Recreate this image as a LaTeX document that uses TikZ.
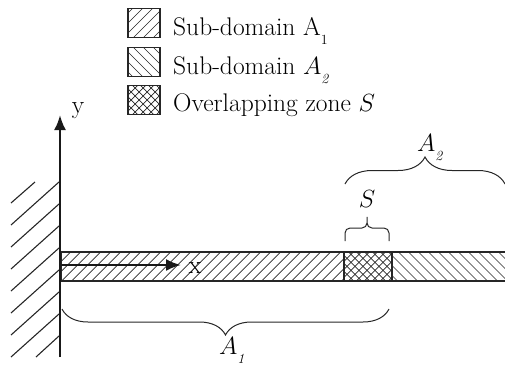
\documentclass[tikz,border=0pt]{standalone}
\usepackage{tikz}
\usetikzlibrary{positioning,decorations.pathreplacing,arrows.meta}
\newcommand{\hatchset}[2]{%
  \foreach \d in {-176,-166,...,176}
    \draw[line width=.65pt,black!85] ([shift={(\d*#1 pt-40pt,-40pt*#2)}]path picture bounding box.center) -- ++(80pt,80pt*#2);}
\newcommand{\lowsub}[1]{\raisebox{-9pt}{\fontsize{14}{14}\selectfont #1}}
\tikzset{
  hatcheast/.style={path picture={\hatchset{1}{1}}},
  hatchwest/.style={path picture={\hatchset{1}{-1}}},
  hatchcross/.style={path picture={\hatchset{.8}{1}\hatchset{.8}{-1}}},
  legendbox/.style={draw=black!85,line width=1.5pt,minimum width=32pt,minimum height=29pt,inner sep=0pt},
  legendtext/.style={anchor=base west,inner sep=0pt,font=\fontsize{25.5}{28}\selectfont},
  stripbox/.style={draw=black!85,line width=1.6pt,minimum height=29pt,inner sep=0pt,anchor=north west},
  label/.style={anchor=base,inner sep=0pt,font=\fontsize{25.5}{28}\selectfont},
  curly/.style={decorate,decoration={brace,amplitude=#1},line width=1pt,black!85},
  axis/.style={line width=2.4pt,black!90,-{Latex[length=15pt,width=12pt]}}
}
\begin{document}
\begin{tikzpicture}[x=1pt,y=-1pt]
\useasboundingbox (0,0) rectangle (505,365);
% legend
\node[legendbox,hatcheast] (boxone) at (144,23) {};
\node[legendbox,hatchwest] (boxtwo) at (144,62) {};
\node[legendbox,hatchcross] (boxthree) at (144,100) {};
\node[legendtext] (textone) at (173,35) {Sub-domain A\lowsub{1}};
\node[legendtext] (texttwo) at (173,74) {Sub-domain $A$\lowsub{\itshape 2}};
\node[legendtext] (textthree) at (173,111) {Overlapping zone $S$};
% strip
\node[stripbox,hatcheast,minimum width=283pt] (stripone) at (60,251) {};
\node[stripbox,hatchcross,minimum width=48pt] (overlap) at (343,251) {};
\node[stripbox,hatchwest,minimum width=114pt] (striptwo) at (391,251) {};
% wall
\foreach \y in {204,226,...,314}
  \draw[line width=1.1pt,black!85] (59,\y) -- (11,\y+43);
\draw[line width=1.1pt,black!85] (35,182) -- (11,203);
\draw[line width=1.1pt,black!85] (59,182) -- (11,225);
\draw[line width=1.1pt,black!85] (59,336) -- (36,357);
% axes
\coordinate (origin) at (60,265);
\coordinate (bottom) at (60,357);
\coordinate (top) at (60,115);
\coordinate (xend) at (181,265);
\draw[axis] (bottom) -- (top);
\draw[axis] (origin) -- (xend);
\node[label] (ylabel) at (78,113) {y};
\node[label] (xlabel) at (195,273) {x};
% braces
\coordinate (oneleft) at (62,309);
\coordinate (oneright) at (389,309);
\coordinate (twoleft) at (345,184);
\coordinate (tworight) at (505,184);
\coordinate (sleft) at (345,241);
\coordinate (sright) at (389,241);
\coordinate (smid) at (367,228);
\coordinate (stip) at (367,214);
\draw[curly=26pt] (oneright) -- (oneleft);
\draw[curly=27pt] (twoleft) -- (tworight);
\draw[line width=1pt,black!85,rounded corners=5pt] (sleft) |- (smid) -- (stip) -- (smid) -| (sright);
\node[label,anchor=base west] (aone) at (219,354) {$A$\lowsub{\itshape 1}};
\node[label,anchor=base west] (atwo) at (417,151) {$A$\lowsub{\itshape 2}};
\node[label] (sname) at (367,207) {$S$};
\end{tikzpicture}
\end{document}
